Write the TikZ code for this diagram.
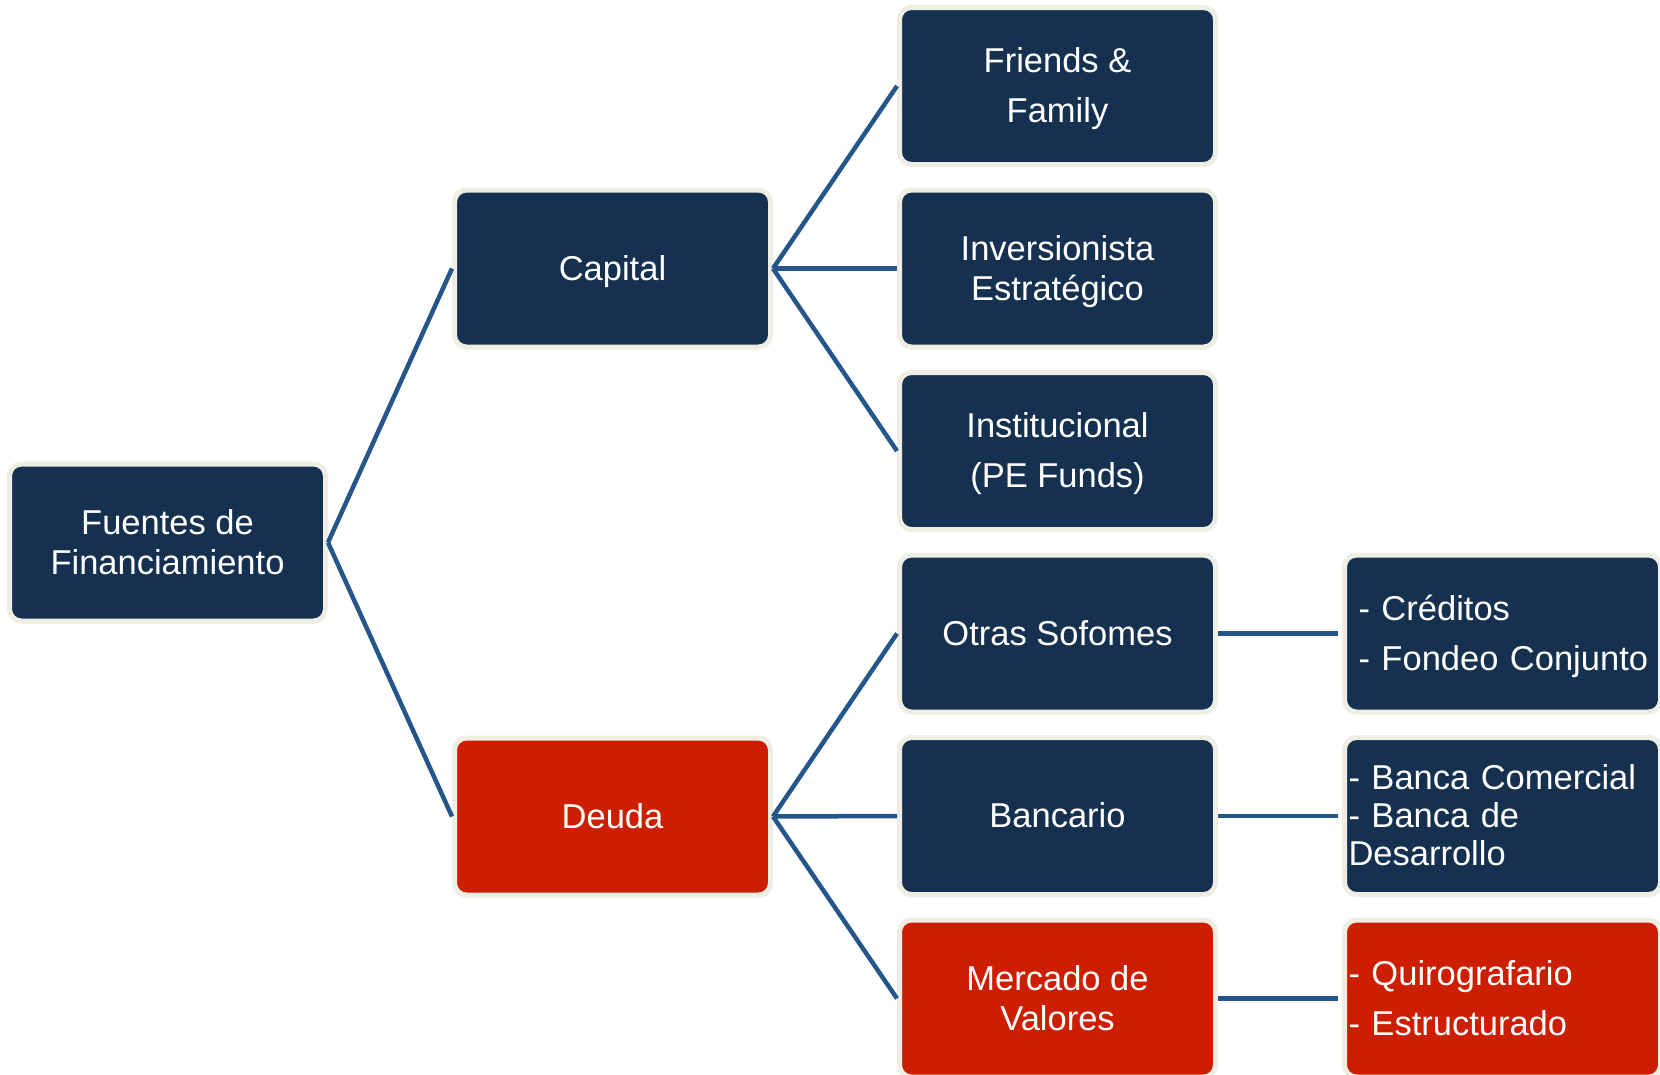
\documentclass[tikz,border=0pt]{standalone}
\usepackage{fontspec}
\setmainfont{Liberation Sans}
\definecolor{navy}{HTML}{16314F}
\definecolor{redbox}{HTML}{CC1E00}
\definecolor{cream}{HTML}{EEEEE4}
\definecolor{linkblue}{HTML}{25568A}
\newcommand{\ms}{\rule[-7.3pt]{0pt}{38.5pt}}
\hyphenpenalty=10000
\exhyphenpenalty=10000
\begin{document}
\begin{tikzpicture}[x=1pt,y=-1pt,
  box/.style={rectangle, rounded corners=12pt, draw=cream, line width=5pt,
    fill=navy, text=white, minimum width=316pt, minimum height=157pt,
    inner sep=0pt, align=center, font=\fontsize{34.5}{38}\selectfont},
  redfill/.style={fill=redbox},
  wide/.style={font=\fontsize{34.5}{50}\selectfont},
  listbox/.style={align=left, inner xsep=14pt, text width=288pt},
  flushbox/.style={align=left, inner xsep=4pt, text width=308pt},
  link/.style={draw=linkblue, line width=4.5pt}]
\useasboundingbox (0,0) rectangle (1660,1074);
\fill[white] (0,0) rectangle (1660,1074);

\node[box] (fuentes) at (167.5,542.5) {\ms Fuentes de\\Financiamiento\ms};
\node[box] (capital) at (612.5,268.5) {\ms Capital\ms};
\node[box,redfill] (deuda) at (612.5,816.5) {\ms Deuda\ms};

\node[box,wide] (friends) at (1057.5,86) {\ms Friends \&\\Family\ms};
\node[box] (inversion) at (1057.5,268.5) {\ms Inversionista\\Estratégico\ms};
\node[box,wide] (institucional) at (1057.5,451) {\ms Institucional\\(PE Funds)\ms};
\node[box] (sofomes) at (1057.5,633.5) {\ms Otras Sofomes\ms};
\node[box] (bancario) at (1057.5,816) {\ms Bancario\ms};
\node[box,redfill] (mercado) at (1057.5,998.5) {\ms Mercado de\\Valores\ms};

\node[box,wide,listbox] (creditos) at (1502.5,633.5) {\ms -~Créditos\\-~Fondeo~Conjunto\ms};
\node[box,flushbox] (banca) at (1502.5,816) {\ms -~Banca~Comercial\\-~Banca~de\\Desarrollo\ms};
\node[box,wide,flushbox,redfill] (quiro) at (1502.5,998.5) {\ms -~Quirografario\\-~Estructurado\ms};

\draw[link] (fuentes.east) -- (capital.west);
\draw[link] (fuentes.east) -- (deuda.west);
\draw[link] (capital.east) -- (friends.west);
\draw[link] (capital.east) -- (inversion.west);
\draw[link] (capital.east) -- (institucional.west);
\draw[link] (deuda.east) -- (sofomes.west);
\draw[link] (deuda.east) -- (bancario.west);
\draw[link] (deuda.east) -- (mercado.west);
\draw[link,shorten >=4pt] (sofomes.east) -- (creditos.west);
\draw[link,shorten >=4pt] (bancario.east) -- (banca.west);
\draw[link,shorten >=4pt] (mercado.east) -- (quiro.west);
\end{tikzpicture}
\end{document}
